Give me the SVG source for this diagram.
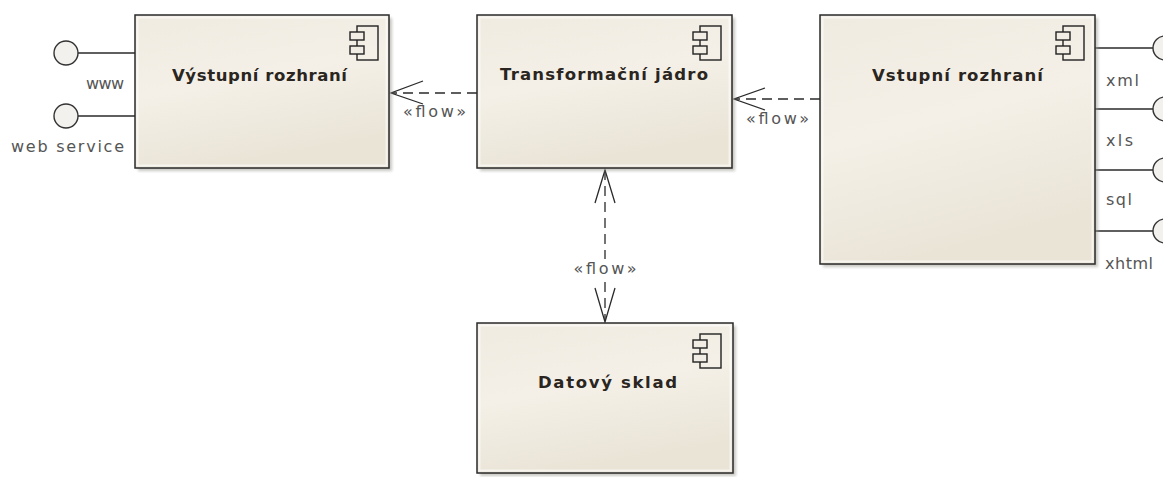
<svg xmlns="http://www.w3.org/2000/svg" width="1163" height="477" viewBox="0 0 1163 477">
  <defs>
    <linearGradient id="boxfill" x1="0" y1="0" x2="0.3" y2="1">
      <stop offset="0" stop-color="#f0ebe1"/>
      <stop offset="0.5" stop-color="#f4f0e7"/>
      <stop offset="1" stop-color="#eae4d7"/>
    </linearGradient>
    <filter id="blur" x="-10%" y="-10%" width="120%" height="120%">
      <feGaussianBlur stdDeviation="1.5"/>
    </filter>
    <g id="icon">
      <rect x="0" y="0" width="21" height="34" fill="none" stroke="#222" stroke-width="1.4"/>
      <rect x="-7" y="6" width="14" height="8" fill="#f1ede4" stroke="#222" stroke-width="1.4"/>
      <rect x="-7" y="20" width="14" height="8" fill="#f1ede4" stroke="#222" stroke-width="1.4"/>
    </g>
  </defs>
  <style>
    .box { fill: url(#boxfill); stroke: #2a2a2a; stroke-width: 1.5; }
    .inner { fill: none; stroke: #ffffff; stroke-opacity: 0.55; stroke-width: 2; }
    .shadow { fill: #9a9890; opacity: 0.55; filter: url(#blur); }
    .title { font-family: "DejaVu Sans", "Liberation Sans", sans-serif; font-weight: bold; font-size: 16.5px; fill: #2a2520; }
    .lbl { font-family: "DejaVu Sans", "Liberation Sans", sans-serif; font-size: 16px; fill: #555; }
    .dash { fill: none; stroke: #2a2a2a; stroke-width: 1.3; stroke-dasharray: 10 6; }
    .solid { fill: none; stroke: #2a2a2a; stroke-width: 1.3; }
    .iface { fill: #f3f1ee; stroke: #333; stroke-width: 1.4; }
  </style>

  <g id="connectors">
    <!-- Transformacni jadro -> Vystupni rozhrani -->
    <line class="dash" x1="477" y1="93" x2="392" y2="93"/>
    <polyline class="solid" points="423,81 391,93 423,104"/>
    <text class="lbl" x="403" y="117" textLength="63" lengthAdjust="spacing">«flow»</text>
    <!-- Vstupni rozhrani -> Transformacni jadro -->
    <line class="dash" x1="820" y1="99" x2="735" y2="99"/>
    <polyline class="solid" points="765,88 734,99 765,110"/>
    <text class="lbl" x="746" y="124" textLength="63" lengthAdjust="spacing">«flow»</text>
    <!-- Transformacni jadro <-> Datovy sklad -->
    <line class="dash" x1="605" y1="170" x2="605" y2="321"/>
    <polyline class="solid" points="595,203 605,170 615,203"/>
    <polyline class="solid" points="595,288 605,322 615,288"/>
    <rect x="573" y="259" width="64" height="19" fill="#ffffff"/>
    <text class="lbl" x="605" y="274" text-anchor="middle" textLength="63" lengthAdjust="spacing">«flow»</text>
    <!-- interfaces left -->
    <line class="solid" x1="78" y1="53" x2="135" y2="53"/>
    <line class="solid" x1="78" y1="116" x2="135" y2="116"/>
    <!-- interfaces right -->
    <line class="solid" x1="1095" y1="48" x2="1153" y2="48"/>
    <line class="solid" x1="1095" y1="109" x2="1153" y2="109"/>
    <line class="solid" x1="1095" y1="170" x2="1153" y2="170"/>
    <line class="solid" x1="1095" y1="231" x2="1153" y2="231"/>
  </g>

  <g id="iface-www">
    <circle class="iface" cx="66" cy="53" r="12"/>
    <text class="lbl" x="124" y="89" text-anchor="end" textLength="38" lengthAdjust="spacing">www</text>
  </g>
  <g id="iface-webservice">
    <circle class="iface" cx="66" cy="116" r="12"/>
    <text class="lbl" x="124" y="152" text-anchor="end" textLength="113" lengthAdjust="spacing">web service</text>
  </g>

  <g id="vystupni">
    <rect class="shadow" x="138" y="18" width="254" height="153"/>
    <rect class="box" x="135" y="15" width="254" height="153"/>
    <rect class="inner" x="137.5" y="17.5" width="249" height="148"/>
    <use href="#icon" x="357" y="26"/>
    <text class="title" x="172" y="81" textLength="175" lengthAdjust="spacing">Výstupní rozhraní</text>
  </g>

  <g id="transformacni">
    <rect class="shadow" x="480" y="18" width="255" height="153"/>
    <rect class="box" x="477" y="15" width="255" height="153"/>
    <rect class="inner" x="479.5" y="17.5" width="250" height="148"/>
    <use href="#icon" x="700" y="26"/>
    <text class="title" x="500" y="80" textLength="208" lengthAdjust="spacing">Transformační jádro</text>
  </g>

  <g id="vstupni">
    <rect class="shadow" x="823" y="18" width="275" height="249"/>
    <rect class="box" x="820" y="15" width="275" height="249"/>
    <rect class="inner" x="822.5" y="17.5" width="270" height="244"/>
    <use href="#icon" x="1063" y="26"/>
    <text class="title" x="872" y="81" textLength="171" lengthAdjust="spacing">Vstupní rozhraní</text>
  </g>

  <g id="iface-xml">
    <circle class="iface" cx="1165" cy="48" r="12"/>
    <text class="lbl" x="1106" y="86" textLength="33" lengthAdjust="spacing">xml</text>
  </g>
  <g id="iface-xls">
    <circle class="iface" cx="1165" cy="109" r="12"/>
    <text class="lbl" x="1106" y="146" textLength="27" lengthAdjust="spacing">xls</text>
  </g>
  <g id="iface-sql">
    <circle class="iface" cx="1165" cy="170" r="12"/>
    <text class="lbl" x="1106" y="205" textLength="26" lengthAdjust="spacing">sql</text>
  </g>
  <g id="iface-xhtml">
    <circle class="iface" cx="1165" cy="231" r="12"/>
    <text class="lbl" x="1105" y="269" textLength="48" lengthAdjust="spacing">xhtml</text>
  </g>

  <g id="datovy">
    <rect class="shadow" x="480" y="326" width="256" height="150"/>
    <rect class="box" x="477" y="323" width="256" height="150"/>
    <rect class="inner" x="479.5" y="325.5" width="251" height="145"/>
    <use href="#icon" x="700" y="334"/>
    <text class="title" x="538" y="388" textLength="139" lengthAdjust="spacing">Datový sklad</text>
  </g>
</svg>
